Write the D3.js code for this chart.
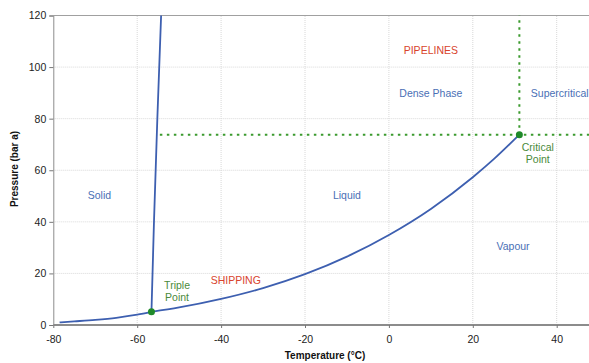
<!DOCTYPE html>
<html>
<head>
<meta charset="utf-8">
<script src="https://cdn.jsdelivr.net/npm/d3@7"></script>
<style>
  body { margin: 0; background: #fff; }
  svg { display: block; font-family: "Liberation Sans", Arial, sans-serif; }
</style>
</head>
<body>
<div id="chart"></div>
<script>
// Phase boundaries of CO2 (temperature °C, pressure bar a)
const sublimation = [[-78.5, 1.0], [-75, 1.4], [-70, 2.0], [-65, 2.8], [-60, 4.0], [-56.6, 5.1]];
const melting = [[-56.6, 5.1], [-56.0, 40], [-55.2, 80], [-54.3, 120]];
const vapourPressure = [[-56.6, 5.1], [-50, 6.8], [-40, 10.1], [-30, 14.3], [-20, 19.7],
  [-10, 26.5], [0, 34.9], [10, 45.0], [20, 57.3], [25, 64.3], [31.1, 73.8]];
const triplePoint = [-56.6, 5.1];
const criticalPoint = [31.1, 73.8];

const xTicks = [-80, -60, -40, -20, 0, 20, 40];
const yTicks = [0, 20, 40, 60, 80, 100, 120];

const regionLabels = [
  { text: 'Solid', t: -69, p: 49, color: '#4a6fb5', anchor: 'middle' },
  { text: 'Liquid', t: -10, p: 49, color: '#4a6fb5', anchor: 'middle' },
  { text: 'Vapour', t: 29.6, p: 29, color: '#4a6fb5', anchor: 'middle' },
  { text: 'Dense Phase', t: 10, p: 88.3, color: '#4a6fb5', anchor: 'middle' },
  { text: 'Supercritical', t: 47.6, p: 88.3, color: '#4a6fb5', anchor: 'end' },
  { text: 'PIPELINES', t: 10, p: 105, color: '#d8432d', anchor: 'middle' },
  { text: 'SHIPPING', t: -36.5, p: 16, color: '#d8432d', anchor: 'middle' }
];
const pointLabels = [
  { lines: ['Triple', 'Point'], t: -50.5, p: 14 },
  { lines: ['Critical', 'Point'], t: 35.5, p: 67.5 }
];

const width = 589, height = 363;
const svg = d3.select('#chart').append('svg')
  .attr('width', width).attr('height', height);

const x = d3.scaleLinear().domain([-80, 40]).range([53.3, 556.7]);
const y = d3.scaleLinear().domain([0, 120]).range([325, 15.5]);

// Grid
const grid = svg.append('g');
grid.selectAll('.vg').data(xTicks.slice(1))
  .join('line')
  .attr('x1', d => x(d)).attr('x2', d => x(d))
  .attr('y1', y(0)).attr('y2', y(120))
  .attr('stroke', '#d8d8d8').attr('stroke-dasharray', '1,1');
grid.selectAll('.hg').data(yTicks.slice(1, -1))
  .join('line')
  .attr('x1', x(-80)).attr('x2', width)
  .attr('y1', d => y(d)).attr('y2', d => y(d))
  .attr('stroke', '#d8d8d8').attr('stroke-dasharray', '1,1');

// Top frame line
svg.append('line')
  .attr('x1', x(-80)).attr('x2', width)
  .attr('y1', y(120)).attr('y2', y(120))
  .attr('stroke', '#a0a0a0').attr('stroke-width', 1);

// Axes
const fmt = d => String(d);
const xAxis = svg.append('g')
  .attr('transform', `translate(0,${y(0)})`)
  .call(d3.axisBottom(x).tickValues(xTicks).tickSize(3).tickPadding(8).tickFormat(fmt));
xAxis.select('.domain').attr('d', `M${x(-80)},0H${width}`).attr('stroke', '#8c8c8c').attr('stroke-width', 2);

const yAxis = svg.append('g')
  .attr('transform', `translate(${x(-80)},0)`)
  .call(d3.axisLeft(y).tickValues(yTicks).tickSize(4).tickPadding(3).tickFormat(fmt));
yAxis.select('.domain').attr('stroke', '#8c8c8c').attr('stroke-width', 1);

svg.selectAll('.tick line').attr('stroke', '#777');
svg.selectAll('.tick text').attr('font-size', 10.5).attr('fill', '#222')
  .attr('font-family', '"Liberation Sans", Arial, sans-serif');

// Axis titles
svg.append('text')
  .attr('x', 325).attr('y', 359)
  .attr('text-anchor', 'middle')
  .attr('font-size', 10).attr('font-weight', 'bold').attr('fill', '#111')
  .text('Temperature (°C)');
svg.append('text')
  .attr('transform', 'translate(18,169) rotate(-90)')
  .attr('text-anchor', 'middle')
  .attr('font-size', 10).attr('font-weight', 'bold').attr('fill', '#111')
  .text('Pressure (bar a)');

// Critical point dotted lines
const dotted = svg.append('g')
  .attr('stroke', '#3b9a2e').attr('stroke-width', 2).attr('stroke-dasharray', '2.5,4.5');
dotted.append('line')
  .attr('x1', x(-54.6)).attr('x2', width)
  .attr('y1', y(criticalPoint[1])).attr('y2', y(criticalPoint[1]));
dotted.append('line')
  .attr('x1', x(criticalPoint[0])).attr('x2', x(criticalPoint[0]))
  .attr('y1', y(criticalPoint[1])).attr('y2', y(120));

// Phase boundaries
const line = d3.line().x(d => x(d[0])).y(d => y(d[1])).curve(d3.curveMonotoneX);
[sublimation, vapourPressure].forEach(data => {
  svg.append('path').datum(data)
    .attr('d', line)
    .attr('fill', 'none').attr('stroke', '#3d5fb0').attr('stroke-width', 1.8);
});
svg.append('path').datum(melting)
  .attr('d', d3.line().x(d => x(d[0])).y(d => y(d[1])))
  .attr('fill', 'none').attr('stroke', '#3d5fb0').attr('stroke-width', 1.8);

// Points
svg.selectAll('.pt').data([triplePoint, criticalPoint])
  .join('circle')
  .attr('cx', d => x(d[0])).attr('cy', d => y(d[1]))
  .attr('r', 3.5).attr('fill', '#1f8a2a');

// Region labels
svg.selectAll('.rl').data(regionLabels)
  .join('text')
  .attr('x', d => x(d.t)).attr('y', d => y(d.p))
  .attr('text-anchor', d => d.anchor)
  .attr('font-size', 10.5).attr('fill', d => d.color)
  .text(d => d.text);

// Point labels
pointLabels.forEach(d => {
  const t = svg.append('text')
    .attr('x', x(d.t)).attr('y', y(d.p))
    .attr('text-anchor', 'middle')
    .attr('font-size', 10.5).attr('fill', '#4a8a3a');
  d.lines.forEach((s, i) => {
    t.append('tspan').attr('x', x(d.t)).attr('dy', i === 0 ? 0 : 12).text(s);
  });
});
</script>
</body>
</html>
